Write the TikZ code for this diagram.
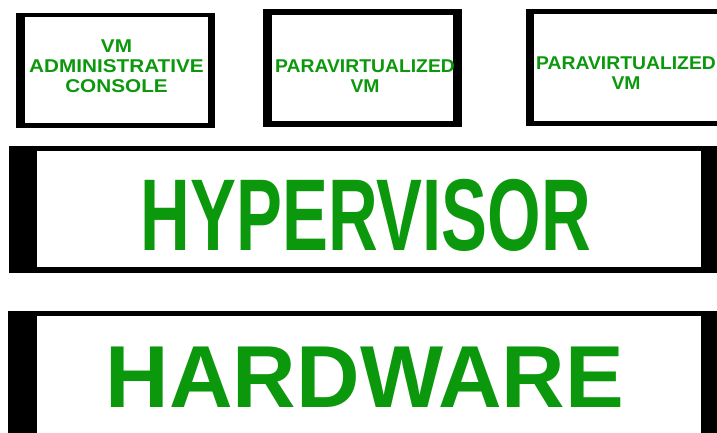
\documentclass[tikz,border=0pt]{standalone}
\usepackage{fontspec}
\setmainfont{Liberation Sans}
\definecolor{labelgreen}{RGB}{12,152,12}
\tikzset{
  frame/.style={fill=black},
  pane/.style={fill=white},
  vmlabel/.style={text=labelgreen, align=center, inner sep=0pt, anchor=center,
    font=\fontsize{18.5pt}{20pt}\selectfont\bfseries\addfontfeatures{FakeStretch=#1}},
  layerlabel/.style={text=labelgreen, inner sep=0pt, anchor=base},
}
\begin{document}
\begin{tikzpicture}[x=1pt,y=-1pt]
\useasboundingbox (0,0) rectangle (717,432);
\fill[white] (0,0) rectangle (717,432);
\clip (0,0) rectangle (717,432);

% console VM
\fill[frame] (16,13) rectangle (215,128);
\fill[pane] (25,17) rectangle (208,123);
\node[vmlabel=1.12] (console) at (116.5,66.5) {VM\\ADMINISTRATIVE\\CONSOLE};

% first paravirtualized VM
\fill[frame] (263,9) rectangle (462,127);
\fill[pane] (272,15) rectangle (453,121);
\node[vmlabel=1.045] (pvmone) at (365,76) {PARAVIRTUALIZED\\VM};

% second paravirtualized VM (runs off the right edge)
\fill[frame] (526,9) rectangle (740,126);
\fill[pane] (534,14) rectangle (740,121);
\node[vmlabel=1.045] (pvmtwo) at (626,73.5) {PARAVIRTUALIZED\\VM};

% hypervisor layer
\fill[frame] (9,146) rectangle (740,273);
\fill[pane] (37,151) rectangle (701,267);
\node[layerlabel, font=\fontsize{102pt}{102pt}\selectfont\bfseries]
  (hyper) at (366,250) {\scalebox{0.675}[1]{HYPERVISOR}};

% hardware layer
\fill[frame] (8,311) rectangle (740,450);
\fill[pane] (37,316) rectangle (701,450);
\node[layerlabel, font=\fontsize{88pt}{88pt}\selectfont\bfseries]
  (hw) at (365,407) {HARDWARE};
\end{tikzpicture}
\end{document}
